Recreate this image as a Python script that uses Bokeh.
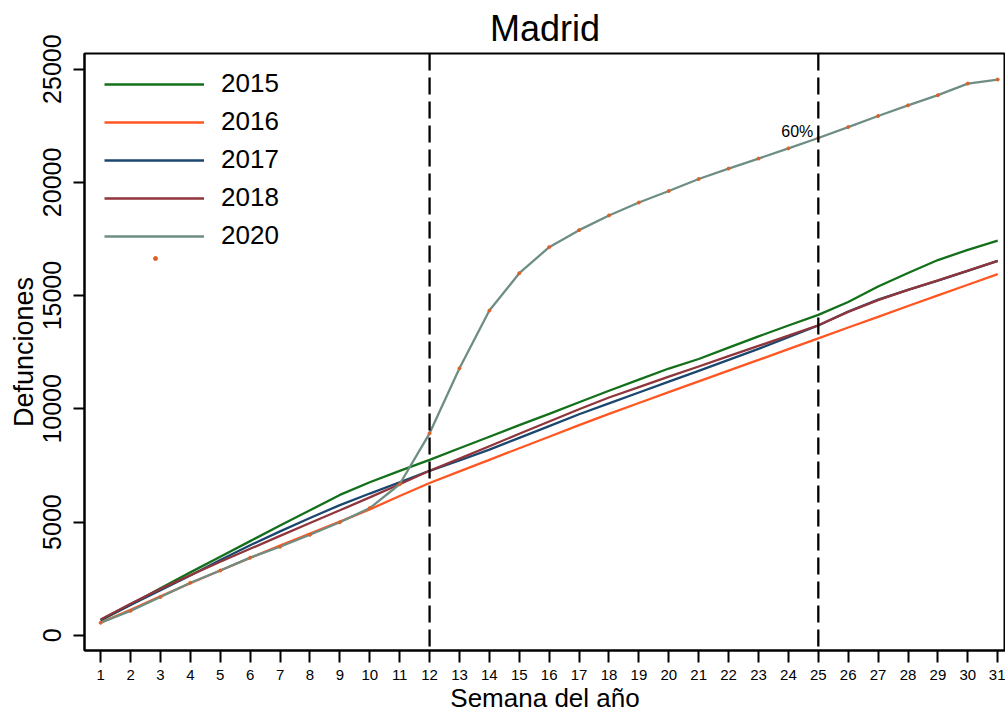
from bokeh.plotting import figure
from bokeh.models import Range1d, FixedTicker, Span, Legend, LegendItem, Label
from bokeh.embed import file_html
from bokeh.resources import INLINE

weeks = list(range(1, 32))
deaths_2015 = [650, 1350, 2080, 2780, 3470, 4160, 4850, 5520, 6200, 6760, 7260, 7745, 8260, 8770, 9280, 9780,
               10290, 10800, 11290, 11780, 12200, 12700, 13200, 13680, 14150, 14720, 15400, 16000, 16570, 17020, 17430]
deaths_2016 = [560, 1130, 1720, 2300, 2860, 3420, 3960, 4490, 5020, 5560, 6150, 6725, 7240, 7750, 8260, 8770,
               9280, 9780, 10260, 10740, 11210, 11690, 12160, 12640, 13115, 13590, 14060, 14540, 15010, 15480, 15950]
deaths_2017 = [680, 1340, 1990, 2640, 3330, 3980, 4590, 5180, 5750, 6260, 6760, 7265, 7720, 8200, 8720, 9240,
               9760, 10240, 10720, 11200, 11680, 12160, 12650, 13160, 13680, 14300, 14820, 15250, 15660, 16090, 16530]
deaths_2018 = [700, 1390, 2050, 2650, 3250, 3820, 4390, 4960, 5520, 6090, 6670, 7265, 7800, 8350, 8900, 9440,
               9980, 10500, 10960, 11420, 11870, 12330, 12780, 13230, 13690, 14280, 14800, 15250, 15670, 16100, 16530]
deaths_2020 = [555, 1080, 1690, 2320, 2860, 3430, 3910, 4440, 4990, 5620, 6670, 8920, 11790, 14340, 15990, 17140,
               17890, 18540, 19110, 19620, 20150, 20610, 21050, 21500, 21960, 22440, 22930, 23400, 23850, 24360, 24540]
series_labels = ["2015", "2016", "2017", "2018", "2020"]
series_colors = ["#13701a", "#ff5722", "#1a476f", "#90353b", "#6e8e84"]
marked_weeks = [12, 25]
annot_week = 25
annot_text = "60%"
y_ticks = [0, 5000, 10000, 15000, 20000, 25000]

FONT = "Liberation Sans"

p = figure(width=1005, height=715, output_backend="svg", toolbar_location=None,
           x_range=Range1d(0.46, 31.26), y_range=Range1d(-670, 25690),
           min_border_left=84, min_border_right=0, min_border_top=51, min_border_bottom=62,
           title="Madrid")
p.title.align = "center"
p.title.text_font = FONT
p.title.text_font_size = "36px"
p.title.text_font_style = "normal"
p.title.text_color = "black"
p.title.standoff = 10
p.grid.visible = False
p.outline_line_color = "black"
p.outline_line_width = 2

for ax in (p.xaxis[0], p.yaxis[0]):
    ax.axis_line_width = 2
    ax.axis_line_color = "black"
    ax.major_tick_line_width = 2
    ax.major_tick_line_color = "black"
    ax.major_tick_in = 0
    ax.minor_tick_line_color = None
    ax.major_label_text_font = FONT
    ax.axis_label_text_font = FONT
    ax.axis_label_text_font_style = "normal"
    ax.major_label_text_color = "black"
    ax.axis_label_text_color = "black"

p.xaxis.ticker = FixedTicker(ticks=weeks)
p.xaxis.major_tick_out = 12
p.xaxis.major_label_text_font_size = "15px"
p.xaxis.major_label_standoff = 7
p.xaxis.major_label_text_line_height = 1.0
p.xaxis.axis_label = "Semana del año"
p.xaxis.axis_label_text_font_size = "26px"
p.xaxis.axis_label_standoff = 0
p.xaxis.axis_label_text_line_height = 0.9

p.yaxis.ticker = FixedTicker(ticks=y_ticks)
p.yaxis.major_tick_out = 11
p.yaxis.major_label_orientation = "vertical"
p.yaxis.major_label_text_font_size = "25px"
p.yaxis.major_label_standoff = 12
p.yaxis.axis_label = "Defunciones"
p.yaxis.axis_label_text_font_size = "27px"
p.yaxis.axis_label_standoff = 2

for w in marked_weeks:
    p.add_layout(Span(location=w, dimension="height", line_color="black", line_width=2.3, line_dash="17 7"))

all_series = [deaths_2015, deaths_2016, deaths_2017, deaths_2018, deaths_2020]
renderers = []
for vals, col in zip(all_series, series_colors):
    r = p.line(weeks, vals, line_color=col, line_width=2.3)
    renderers.append(r)
dots = p.scatter(weeks, deaths_2020, size=3, color="#d9622b")

i25 = weeks.index(annot_week)
p.add_layout(Label(x=annot_week, y=deaths_2020[i25], text=annot_text, text_align="right",
                   text_baseline="bottom", x_offset=-5, y_offset=-2, text_font=FONT,
                   text_font_size="16px", text_color="black"))

legend = Legend(items=[LegendItem(label=l, renderers=[r]) for l, r in zip(series_labels, renderers)],
                location=(20, 399), glyph_width=100, glyph_height=26, label_height=26, spacing=7,
                padding=0, margin=0, label_standoff=17, label_text_font=FONT, label_text_font_size="26px",
                label_text_color="black", border_line_color=None, background_fill_alpha=0)
p.add_layout(legend)
legend2 = Legend(items=[LegendItem(label=" ", renderers=[dots])], location=(21, 387),
                 glyph_width=100, glyph_height=10, label_height=10, padding=0, margin=0,
                 label_text_font_size="10px", border_line_color=None, background_fill_alpha=0)
p.add_layout(legend2)

open("out.html", "w").write(file_html(p, INLINE))
